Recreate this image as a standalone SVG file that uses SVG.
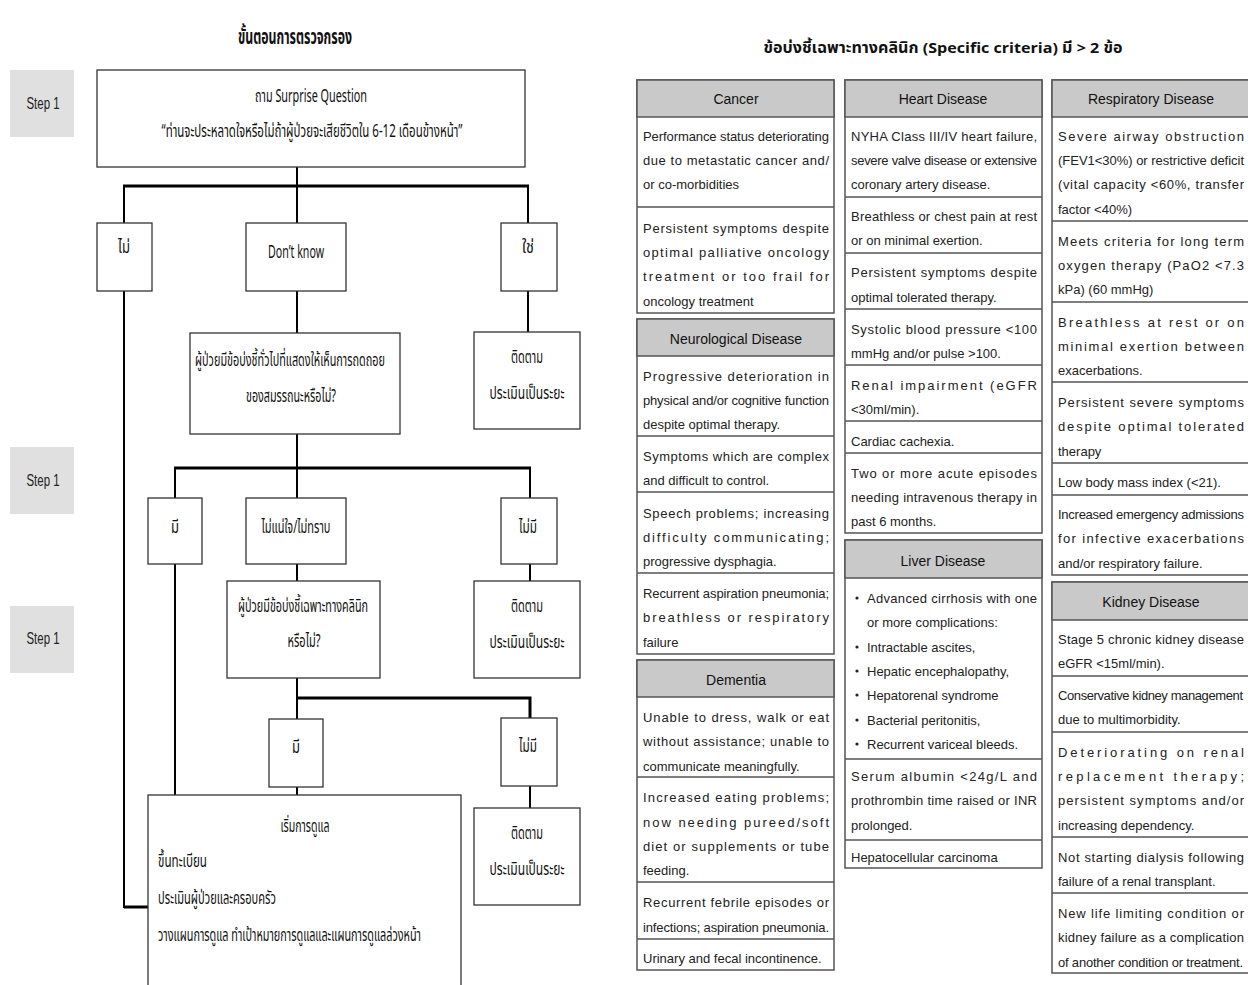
<svg xmlns="http://www.w3.org/2000/svg" width="1248" height="985" viewBox="0 0 1248 985">
<style>
.th{font-family:"Noto Sans Thai","Noto Sans","Liberation Sans",sans-serif;fill:#111}
.fc{font-size:18px}
.box{fill:#fff;stroke:#333;stroke-width:1.3}
.step{fill:#e0e0e0}
.stept{font-family:"Liberation Sans",sans-serif;font-size:17px;fill:#222}
.bar{stroke:#000;stroke-width:3;fill:none}
.vl{stroke:#000;stroke-width:2;fill:none}
.tb{fill:#fff;stroke:#555;stroke-width:1.5}
.hd{fill:#c9c9c9;stroke:#555;stroke-width:1.5}
.sep{stroke:#555;stroke-width:1.5}
.t{font-family:"Liberation Sans",sans-serif;font-size:13px;fill:#222}
.h{font-family:"Liberation Sans",sans-serif;font-size:14px;fill:#111}
.title{font-family:"Noto Sans Thai","Noto Sans","Liberation Sans",sans-serif;font-weight:bold;fill:#111}
</style>

<!-- Left flowchart -->
<text class="title" x="295" y="44" font-size="21" text-anchor="middle" textLength="114" lengthAdjust="spacingAndGlyphs">ขั้นตอนการตรวจกรอง</text>

<g id="step1a"><rect class="step" x="10" y="70" width="64" height="67"/><text class="stept" x="43" y="109" text-anchor="middle" textLength="33" lengthAdjust="spacingAndGlyphs">Step 1</text></g>
<g id="step1b"><rect class="step" x="10" y="447" width="64" height="67"/><text class="stept" x="43" y="486" text-anchor="middle" textLength="33" lengthAdjust="spacingAndGlyphs">Step 1</text></g>
<g id="step1c"><rect class="step" x="10" y="606" width="64" height="67"/><text class="stept" x="43" y="644" text-anchor="middle" textLength="33" lengthAdjust="spacingAndGlyphs">Step 1</text></g>

<g id="connectors">
<line class="vl" x1="297" y1="167" x2="297" y2="186"/>
<line class="bar" x1="123" y1="186" x2="529" y2="186"/>
<line class="vl" x1="124" y1="186" x2="124" y2="223"/>
<line class="vl" x1="297" y1="186" x2="297" y2="223"/>
<line class="vl" x1="528" y1="186" x2="528" y2="223"/>
<polyline class="vl" points="124,291 124,907 148,907"/>
<line class="bar" x1="124" y1="907" x2="148" y2="907"/>
<line class="vl" x1="297" y1="291" x2="297" y2="333"/>
<line class="vl" x1="528" y1="291" x2="528" y2="332"/>
<line class="vl" x1="297" y1="434" x2="297" y2="468"/>
<line class="bar" x1="174" y1="468" x2="531" y2="468"/>
<line class="vl" x1="175" y1="468" x2="175" y2="498"/>
<line class="vl" x1="297" y1="468" x2="297" y2="498"/>
<line class="vl" x1="530" y1="468" x2="530" y2="498"/>
<line class="vl" x1="175" y1="564" x2="175" y2="795"/>
<line class="vl" x1="297" y1="564" x2="297" y2="581"/>
<line class="vl" x1="530" y1="564" x2="530" y2="581"/>
<line class="vl" x1="297" y1="678" x2="297" y2="719"/>
<polyline class="bar" points="297,698 530,698 530,718"/>
<line class="vl" x1="297" y1="787" x2="297" y2="795"/>
<line class="vl" x1="530" y1="786" x2="530" y2="808"/>
</g>

<g id="surprise">
<rect class="box" x="97" y="70" width="428" height="97"/>
<text class="th fc" x="311" y="102" text-anchor="middle" textLength="112" lengthAdjust="spacingAndGlyphs">ถาม Surprise Question</text>
<text class="th fc" x="312" y="137" text-anchor="middle" textLength="301" lengthAdjust="spacingAndGlyphs">“ท่านจะประหลาดใจหรือไม่ถ้าผู้ป่วยจะเสียชีวิตใน 6-12 เดือนข้างหน้า”</text>
</g>
<g id="no1"><rect class="box" x="97" y="223" width="55" height="68"/><text class="th fc" x="124" y="253" text-anchor="middle" textLength="12" lengthAdjust="spacingAndGlyphs">ไม่</text></g>
<g id="dontknow"><rect class="box" x="246" y="223" width="100" height="68"/><text class="th fc" x="296" y="258" text-anchor="middle" textLength="56" lengthAdjust="spacingAndGlyphs">Don’t know</text></g>
<g id="yes1"><rect class="box" x="501" y="223" width="56" height="68"/><text class="th fc" x="528" y="253" text-anchor="middle" textLength="12" lengthAdjust="spacingAndGlyphs">ใช่</text></g>

<g id="general">
<rect class="box" x="190" y="333" width="210" height="101"/>
<text class="th fc" x="290" y="366" text-anchor="middle" textLength="190" lengthAdjust="spacingAndGlyphs">ผู้ป่วยมีข้อบ่งชี้ทั่วไปที่แสดงให้เห็นการถดถอย</text>
<text class="th fc" x="291" y="402" text-anchor="middle" textLength="90" lengthAdjust="spacingAndGlyphs">ของสมรรถนะหรือไม่?</text>
</g>
<g id="follow1">
<rect class="box" x="474" y="332" width="106" height="97"/>
<text class="th fc" x="527" y="363" text-anchor="middle" textLength="32" lengthAdjust="spacingAndGlyphs">ติดตาม</text>
<text class="th fc" x="527" y="399" text-anchor="middle" textLength="75" lengthAdjust="spacingAndGlyphs">ประเมินเป็นระยะ</text>
</g>

<g id="have2"><rect class="box" x="148" y="498" width="54" height="66"/><text class="th fc" x="175" y="533" text-anchor="middle" textLength="8" lengthAdjust="spacingAndGlyphs">มี</text></g>
<g id="unsure"><rect class="box" x="246" y="498" width="100" height="66"/><text class="th fc" x="296" y="533" text-anchor="middle" textLength="69" lengthAdjust="spacingAndGlyphs">ไม่แน่ใจ/ไม่ทราบ</text></g>
<g id="none2"><rect class="box" x="501" y="498" width="56" height="66"/><text class="th fc" x="528" y="533" text-anchor="middle" textLength="18" lengthAdjust="spacingAndGlyphs">ไม่มี</text></g>

<g id="specific">
<rect class="box" x="227" y="581" width="153" height="97"/>
<text class="th fc" x="303" y="612" text-anchor="middle" textLength="130" lengthAdjust="spacingAndGlyphs">ผู้ป่วยมีข้อบ่งชี้เฉพาะทางคลินิก</text>
<text class="th fc" x="304" y="647" text-anchor="middle" textLength="33" lengthAdjust="spacingAndGlyphs">หรือไม่?</text>
</g>
<g id="follow2">
<rect class="box" x="474" y="581" width="106" height="97"/>
<text class="th fc" x="527" y="612" text-anchor="middle" textLength="32" lengthAdjust="spacingAndGlyphs">ติดตาม</text>
<text class="th fc" x="527" y="648" text-anchor="middle" textLength="75" lengthAdjust="spacingAndGlyphs">ประเมินเป็นระยะ</text>
</g>

<g id="have3"><rect class="box" x="269" y="719" width="54" height="68"/><text class="th fc" x="296" y="753" text-anchor="middle" textLength="8" lengthAdjust="spacingAndGlyphs">มี</text></g>
<g id="none3"><rect class="box" x="501" y="718" width="56" height="68"/><text class="th fc" x="528" y="752" text-anchor="middle" textLength="18" lengthAdjust="spacingAndGlyphs">ไม่มี</text></g>

<g id="care">
<rect class="box" x="148" y="795" width="313" height="200"/>
<text class="th fc" x="305" y="832" text-anchor="middle" textLength="49" lengthAdjust="spacingAndGlyphs">เริ่มการดูแล</text>
<text class="th fc" x="158" y="867" textLength="49" lengthAdjust="spacingAndGlyphs">ขึ้นทะเบียน</text>
<text class="th fc" x="158" y="904" textLength="118" lengthAdjust="spacingAndGlyphs">ประเมินผู้ป่วยและครอบครัว</text>
<text class="th fc" x="158" y="941" textLength="263" lengthAdjust="spacingAndGlyphs">วางแผนการดูแล ทำเป้าหมายการดูแลและแผนการดูแลล่วงหน้า</text>
</g>
<g id="follow3">
<rect class="box" x="474" y="808" width="106" height="97"/>
<text class="th fc" x="527" y="839" text-anchor="middle" textLength="32" lengthAdjust="spacingAndGlyphs">ติดตาม</text>
<text class="th fc" x="527" y="875" text-anchor="middle" textLength="75" lengthAdjust="spacingAndGlyphs">ประเมินเป็นระยะ</text>
</g>

<!-- Right tables -->
<text class="title" x="943" y="53" font-size="15" text-anchor="middle" textLength="359" lengthAdjust="spacingAndGlyphs">ข้อบ่งชี้เฉพาะทางคลินิก (Specific criteria) มี &gt; 2 ข้อ</text>

<g id="cancer">
<rect class="tb" x="637" y="80" width="197" height="233"/>
<rect class="hd" x="637" y="80" width="197" height="37"/>
<text class="h" x="736" y="104" text-anchor="middle">Cancer</text>
<line class="sep" x1="637" y1="207" x2="834" y2="207"/>
<text class="t" x="643" y="141" textLength="186" lengthAdjust="spacing">Performance status deteriorating</text>
<text class="t" x="643" y="165" textLength="186" lengthAdjust="spacing">due to metastatic cancer and/</text>
<text class="t" x="643" y="189">or co-morbidities</text>
<text class="t" x="643" y="233" textLength="186" lengthAdjust="spacing">Persistent symptoms despite</text>
<text class="t" x="643" y="257" textLength="186" lengthAdjust="spacing">optimal palliative oncology</text>
<text class="t" x="643" y="281" textLength="186" lengthAdjust="spacing">treatment or too frail for</text>
<text class="t" x="643" y="306">oncology treatment</text>
</g>

<g id="neuro">
<rect class="tb" x="637" y="319" width="197" height="335"/>
<rect class="hd" x="637" y="319" width="197" height="37"/>
<text class="h" x="736" y="344" text-anchor="middle">Neurological Disease</text>
<line class="sep" x1="637" y1="436" x2="834" y2="436"/>
<line class="sep" x1="637" y1="492" x2="834" y2="492"/>
<line class="sep" x1="637" y1="573" x2="834" y2="573"/>
<text class="t" x="643" y="381" textLength="186" lengthAdjust="spacing">Progressive deterioration in</text>
<text class="t" x="643" y="405" textLength="186" lengthAdjust="spacing">physical and/or cognitive function</text>
<text class="t" x="643" y="429">despite optimal therapy.</text>
<text class="t" x="643" y="461" textLength="186" lengthAdjust="spacing">Symptoms which are complex</text>
<text class="t" x="643" y="485">and difficult to control.</text>
<text class="t" x="643" y="518" textLength="186" lengthAdjust="spacing">Speech problems; increasing</text>
<text class="t" x="643" y="542" textLength="186" lengthAdjust="spacing">difficulty communicating;</text>
<text class="t" x="643" y="566">progressive dysphagia.</text>
<text class="t" x="643" y="598" textLength="186" lengthAdjust="spacing">Recurrent aspiration pneumonia;</text>
<text class="t" x="643" y="622" textLength="186" lengthAdjust="spacing">breathless or respiratory</text>
<text class="t" x="643" y="647">failure</text>
</g>

<g id="dementia">
<rect class="tb" x="637" y="660" width="197" height="310"/>
<rect class="hd" x="637" y="660" width="197" height="37"/>
<text class="h" x="736" y="685" text-anchor="middle">Dementia</text>
<line class="sep" x1="637" y1="777" x2="834" y2="777"/>
<line class="sep" x1="637" y1="882" x2="834" y2="882"/>
<line class="sep" x1="637" y1="939" x2="834" y2="939"/>
<text class="t" x="643" y="722" textLength="186" lengthAdjust="spacing">Unable to dress, walk or eat</text>
<text class="t" x="643" y="746" textLength="186" lengthAdjust="spacing">without assistance; unable to</text>
<text class="t" x="643" y="771">communicate meaningfully.</text>
<text class="t" x="643" y="802" textLength="186" lengthAdjust="spacing">Increased eating problems;</text>
<text class="t" x="643" y="827" textLength="186" lengthAdjust="spacing">now needing pureed/soft</text>
<text class="t" x="643" y="851" textLength="186" lengthAdjust="spacing">diet or supplements or tube</text>
<text class="t" x="643" y="875">feeding.</text>
<text class="t" x="643" y="907" textLength="186" lengthAdjust="spacing">Recurrent febrile episodes or</text>
<text class="t" x="643" y="932" font-size="12.5" textLength="186" lengthAdjust="spacing">infections; aspiration pneumonia.</text>
<text class="t" x="643" y="963">Urinary and fecal incontinence.</text>
</g>

<g id="heart">
<rect class="tb" x="845" y="80" width="197" height="453"/>
<rect class="hd" x="845" y="80" width="197" height="37"/>
<text class="h" x="943" y="104" text-anchor="middle">Heart Disease</text>
<line class="sep" x1="845" y1="197" x2="1042" y2="197"/>
<line class="sep" x1="845" y1="253" x2="1042" y2="253"/>
<line class="sep" x1="845" y1="309" x2="1042" y2="309"/>
<line class="sep" x1="845" y1="365" x2="1042" y2="365"/>
<line class="sep" x1="845" y1="421" x2="1042" y2="421"/>
<line class="sep" x1="845" y1="453" x2="1042" y2="453"/>
<text class="t" x="851" y="141" textLength="186" lengthAdjust="spacing">NYHA Class III/IV heart failure,</text>
<text class="t" x="851" y="165" font-size="12.5" textLength="186" lengthAdjust="spacing">severe valve disease or extensive</text>
<text class="t" x="851" y="189">coronary artery disease.</text>
<text class="t" x="851" y="221" textLength="186" lengthAdjust="spacing">Breathless or chest pain at rest</text>
<text class="t" x="851" y="245">or on minimal exertion.</text>
<text class="t" x="851" y="277" textLength="186" lengthAdjust="spacing">Persistent symptoms despite</text>
<text class="t" x="851" y="302">optimal tolerated therapy.</text>
<text class="t" x="851" y="334" textLength="186" lengthAdjust="spacing">Systolic blood pressure &lt;100</text>
<text class="t" x="851" y="358">mmHg and/or pulse &gt;100.</text>
<text class="t" x="851" y="390" textLength="186" lengthAdjust="spacing">Renal impairment (eGFR</text>
<text class="t" x="851" y="414">&lt;30ml/min).</text>
<text class="t" x="851" y="446">Cardiac cachexia.</text>
<text class="t" x="851" y="478" textLength="186" lengthAdjust="spacing">Two or more acute episodes</text>
<text class="t" x="851" y="502" textLength="186" lengthAdjust="spacing">needing intravenous therapy in</text>
<text class="t" x="851" y="526">past 6 months.</text>
</g>

<g id="liver">
<rect class="tb" x="845" y="540" width="197" height="328"/>
<rect class="hd" x="845" y="540" width="197" height="38"/>
<text class="h" x="943" y="566" text-anchor="middle">Liver Disease</text>
<line class="sep" x1="845" y1="759" x2="1042" y2="759"/>
<line class="sep" x1="845" y1="840" x2="1042" y2="840"/>
<g fill="#222">
<circle cx="857" cy="598" r="1.6"/>
<circle cx="857" cy="647" r="1.6"/>
<circle cx="857" cy="671" r="1.6"/>
<circle cx="857" cy="695" r="1.6"/>
<circle cx="857" cy="720" r="1.6"/>
<circle cx="857" cy="744" r="1.6"/>
</g>
<text class="t" x="867" y="603" textLength="170" lengthAdjust="spacing">Advanced cirrhosis with one</text>
<text class="t" x="867" y="627">or more complications:</text>
<text class="t" x="867" y="652">Intractable ascites,</text>
<text class="t" x="867" y="676">Hepatic encephalopathy,</text>
<text class="t" x="867" y="700">Hepatorenal syndrome</text>
<text class="t" x="867" y="725">Bacterial peritonitis,</text>
<text class="t" x="867" y="749">Recurrent variceal bleeds.</text>
<text class="t" x="851" y="781" textLength="186" lengthAdjust="spacing">Serum albumin &lt;24g/L and</text>
<text class="t" x="851" y="805" textLength="186" lengthAdjust="spacing">prothrombin time raised or INR</text>
<text class="t" x="851" y="830">prolonged.</text>
<text class="t" x="851" y="862">Hepatocellular carcinoma</text>
</g>

<g id="respiratory">
<rect class="tb" x="1052" y="80" width="200" height="495"/>
<rect class="hd" x="1052" y="80" width="200" height="37"/>
<text class="h" x="1151" y="104" text-anchor="middle">Respiratory Disease</text>
<line class="sep" x1="1052" y1="221" x2="1248" y2="221"/>
<line class="sep" x1="1052" y1="302" x2="1248" y2="302"/>
<line class="sep" x1="1052" y1="382" x2="1248" y2="382"/>
<line class="sep" x1="1052" y1="463" x2="1248" y2="463"/>
<line class="sep" x1="1052" y1="495" x2="1248" y2="495"/>
<text class="t" x="1058" y="141" textLength="186" lengthAdjust="spacing">Severe airway obstruction</text>
<text class="t" x="1058" y="165" font-size="12.5" textLength="186" lengthAdjust="spacing">(FEV1&lt;30%) or restrictive deficit</text>
<text class="t" x="1058" y="189" textLength="186" lengthAdjust="spacing">(vital capacity &lt;60%, transfer</text>
<text class="t" x="1058" y="214">factor &lt;40%)</text>
<text class="t" x="1058" y="246" textLength="186" lengthAdjust="spacing">Meets criteria for long term</text>
<text class="t" x="1058" y="270" textLength="186" lengthAdjust="spacing">oxygen therapy (PaO2 &lt;7.3</text>
<text class="t" x="1058" y="294">kPa) (60 mmHg)</text>
<text class="t" x="1058" y="327" textLength="186" lengthAdjust="spacing">Breathless at rest or on</text>
<text class="t" x="1058" y="351" textLength="186" lengthAdjust="spacing">minimal exertion between</text>
<text class="t" x="1058" y="375">exacerbations.</text>
<text class="t" x="1058" y="407" textLength="186" lengthAdjust="spacing">Persistent severe symptoms</text>
<text class="t" x="1058" y="431" textLength="186" lengthAdjust="spacing">despite optimal tolerated</text>
<text class="t" x="1058" y="456">therapy</text>
<text class="t" x="1058" y="487">Low body mass index (&lt;21).</text>
<text class="t" x="1058" y="519" font-size="12.5" textLength="186" lengthAdjust="spacing">Increased emergency admissions</text>
<text class="t" x="1058" y="543" textLength="186" lengthAdjust="spacing">for infective exacerbations</text>
<text class="t" x="1058" y="568">and/or respiratory failure.</text>
</g>

<g id="kidney">
<rect class="tb" x="1052" y="582" width="200" height="391"/>
<rect class="hd" x="1052" y="582" width="200" height="38"/>
<text class="h" x="1151" y="607" text-anchor="middle">Kidney Disease</text>
<line class="sep" x1="1052" y1="676" x2="1248" y2="676"/>
<line class="sep" x1="1052" y1="732" x2="1248" y2="732"/>
<line class="sep" x1="1052" y1="837" x2="1248" y2="837"/>
<line class="sep" x1="1052" y1="893" x2="1248" y2="893"/>
<text class="t" x="1058" y="644" textLength="186" lengthAdjust="spacing">Stage 5 chronic kidney disease</text>
<text class="t" x="1058" y="668">eGFR &lt;15ml/min).</text>
<text class="t" x="1058" y="700" font-size="11.5" textLength="185" lengthAdjust="spacing">Conservative kidney management</text>
<text class="t" x="1058" y="724">due to multimorbidity.</text>
<text class="t" x="1058" y="757" textLength="186" lengthAdjust="spacing">Deteriorating on renal</text>
<text class="t" x="1058" y="781" textLength="186" lengthAdjust="spacing">replacement therapy;</text>
<text class="t" x="1058" y="805" textLength="186" lengthAdjust="spacing">persistent symptoms and/or</text>
<text class="t" x="1058" y="830">increasing dependency.</text>
<text class="t" x="1058" y="862" textLength="186" lengthAdjust="spacing">Not starting dialysis following</text>
<text class="t" x="1058" y="886">failure of a renal transplant.</text>
<text class="t" x="1058" y="918" textLength="186" lengthAdjust="spacing">New life limiting condition or</text>
<text class="t" x="1058" y="942" font-size="12.5" textLength="186" lengthAdjust="spacing">kidney failure as a complication</text>
<text class="t" x="1058" y="967" font-size="11.5" textLength="185" lengthAdjust="spacing">of another condition or treatment.</text>
</g>
</svg>
